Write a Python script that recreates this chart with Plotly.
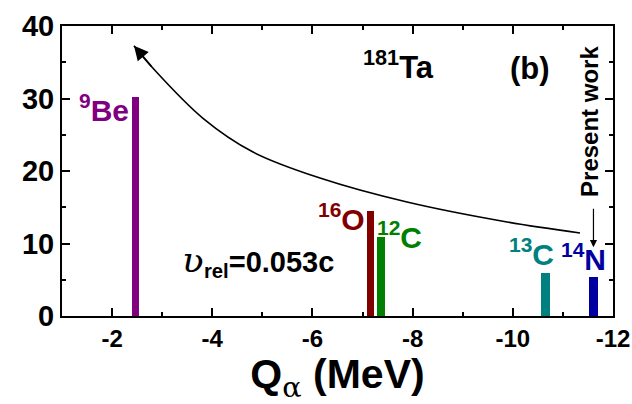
import plotly.graph_objects as go

# Q-values (MeV) and measured values for each projectile on 181Ta
projectiles = ["9Be", "16O", "12C", "13C", "14N"]
q_alpha = [-2.47, -7.16, -7.37, -10.65, -11.61]
values = [30.2, 14.5, 10.86, 5.97, 5.42]
bar_colors = ["#800080", "#800000", "#008000", "#008080", "#0000a0"]
bar_widths = [0.145, 0.145, 0.145, 0.165, 0.17]

# Hand-drawn trend guide (Q, value)
guide_q = [-2.437, -2.817, -3.815, -4.813, -6.151, -7.888, -9.884, -11.341]
guide_y = [37.28, 34.17, 27.27, 22.62, 19.03, 15.72, 12.97, 11.45]

x_ticks = [-2, -4, -6, -8, -10, -12]
x_minor = [-3, -5, -7, -9, -11]
y_ticks = [0, 10, 20, 30, 40]
y_minor = [5, 15, 25, 35]

FONT = "Liberation Sans"

fig = go.Figure()

fig.add_trace(go.Bar(
    x=q_alpha, y=values, width=bar_widths,
    marker=dict(color=bar_colors, line=dict(width=0)),
    showlegend=False, hoverinfo="skip",
))

fig.add_trace(go.Scatter(
    x=guide_q, y=guide_y, mode="lines",
    line=dict(color="black", width=1.6, shape="spline", smoothing=1.0),
    showlegend=False, hoverinfo="skip",
))

# arrowhead at the start of the guide
fig.add_annotation(
    x=guide_q[0], y=guide_y[0], ax=guide_q[1], ay=guide_y[1],
    xref="x", yref="y", axref="x", ayref="y",
    text="", showarrow=True, arrowhead=2, arrowsize=1.8, arrowwidth=1.6,
    arrowcolor="black", standoff=0,
)

# "Present work" pointer
fig.add_annotation(
    x=q_alpha[4], y=9.5, ax=q_alpha[4], ay=15.0,
    xref="x", yref="y", axref="x", ayref="y",
    text="", showarrow=True, arrowhead=2, arrowsize=1.2, arrowwidth=1.2,
    arrowcolor="black", standoff=0,
)

label_text = ["<sup>9</sup>Be", "<sup>16</sup>O", "<sup>12</sup>C",
              "<sup>13</sup>C", "<sup>14</sup>N"]
label_q = [-1.84, -6.57, -7.74, -10.37, -11.41]
label_y = [28.7, 13.72, 11.17, 8.76, 8.07]
for txt, lq, ly, col in zip(label_text, label_q, label_y, bar_colors):
    fig.add_annotation(
        x=lq, y=ly, text=txt, showarrow=False,
        xanchor="center", yanchor="middle",
        font=dict(family=FONT, size=30, color=col, weight="bold"),
    )

fig.add_annotation(
    x=-7.72, y=34.69, text="<sup>181</sup>Ta", showarrow=False,
    font=dict(family=FONT, size=31, color="black", weight="bold"),
)
fig.add_annotation(
    x=-10.34, y=34.2, text="(b)", showarrow=False,
    font=dict(family=FONT, size=31, color="black", weight="bold"),
)
fig.add_annotation(
    x=-11.54, y=26.9, text="Present work", showarrow=False, textangle=-90,
    font=dict(family=FONT, size=24, color="black", weight="bold"),
)
fig.add_annotation(
    x=-4.92, y=7.7,
    text=("<span style=\"font-family:'DejaVu Serif';font-style:italic;"
          "font-weight:normal;font-size:36px\">ʋ</span>"
          "<sub>rel</sub>=0.053c"),
    showarrow=False,
    font=dict(family=FONT, size=29, color="black", weight="bold"),
)

axis_common = dict(
    showline=True, linecolor="black", linewidth=2, mirror="allticks",
    ticks="inside", ticklen=8, tickwidth=2, tickcolor="black",
    showgrid=False, zeroline=False, automargin=False, tickmode="array",
)

fig.update_xaxes(
    range=[-1, -12], tickvals=x_ticks, ticktext=[str(t) for t in x_ticks],
    tickfont=dict(family=FONT, size=24, color="black", weight="bold"),
    minor=dict(ticks="inside", ticklen=4, tickwidth=2, tickcolor="black",
               tickmode="array", tickvals=x_minor),
    title=dict(
        text="Q<sub><span style=\"font-family:'DejaVu Serif';"
             "font-weight:normal\">α</span></sub> (MeV)",
        font=dict(family=FONT, size=41, color="black", weight="bold"),
        standoff=0,
    ),
    **axis_common,
)
fig.update_yaxes(
    range=[0, 40], tickvals=y_ticks, ticktext=[str(t) for t in y_ticks],
    tickfont=dict(family=FONT, size=29, color="black", weight="bold"),
    minor=dict(ticks="inside", ticklen=4, tickwidth=2, tickcolor="black",
               tickmode="array", tickvals=y_minor),
    **axis_common,
)

fig.update_layout(
    width=632, height=404,
    margin=dict(l=62, r=19, t=26, b=88),
    paper_bgcolor="white", plot_bgcolor="white",
    bargap=0, barmode="overlay",
    font=dict(family=FONT, color="black"),
)

fig.write_html("out.html")
